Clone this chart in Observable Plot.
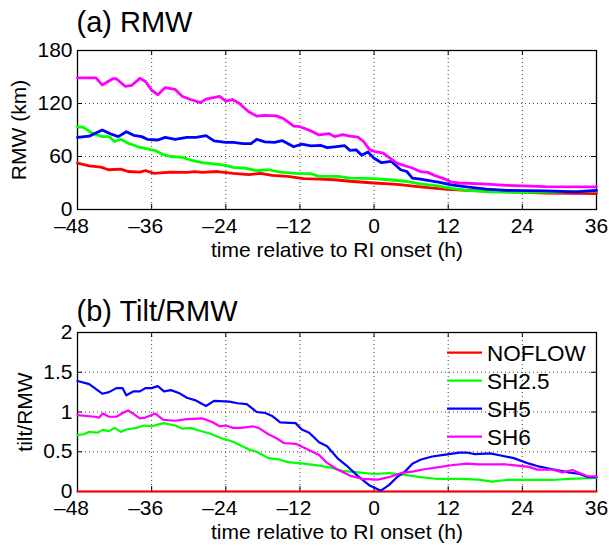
<!DOCTYPE html>
<html>
<head>
<meta charset="utf-8">
<script src="https://cdn.jsdelivr.net/npm/d3@7"></script>
<script src="https://cdn.jsdelivr.net/npm/@observablehq/plot@0.6"></script>
<style>
  html, body { margin: 0; padding: 0; background: white; }
  #wrap { position: relative; width: 609px; height: 546px; overflow: hidden; }
  #wrap svg { display: block; }
  #legend { position: absolute; left: 0; top: 0; pointer-events: none; }
</style>
</head>
<body>
<div id="wrap"></div>
<script>
// ---------- data ----------
const xTicks = [-48, -36, -24, -12, 0, 12, 24, 36];
const rmwTicks = [0, 60, 120, 180];
const tiltTicks = [0, 0.5, 1, 1.5, 2];
const seriesNames = ["NOFLOW", "SH2.5", "SH5", "SH6"];
const seriesColors = ["#ff0000", "#00ff00", "#0000ff", "#ff00ff"];
const titleA = "(a) RMW";
const titleB = "(b) Tilt/RMW";
const xLabel = "time relative to RI onset (h)";
const yLabelA = "RMW (km)";
const yLabelB = "tilt/RMW";

// (a) RMW (km): [hours, value]
const rmwNOFLOW = [[-48,52.5],[-46.1,49.5],[-44.2,48],[-43,45],[-41,45.7],[-39.8,43],[-37.9,42.4],[-37,44],[-35.7,41],[-32.9,42.4],[-30.3,42],[-29,43],[-27.8,42],[-25.3,43],[-22.8,41],[-20.3,39.4],[-18.4,41],[-16.5,38.6],[-14,37.5],[-11.4,35],[-8.9,34.5],[-6.4,33.7],[-3.9,32],[0,30],[3.7,28.5],[7.5,25.5],[11.3,23],[15,21.7],[21.4,20],[27.7,18.7],[36,18]];
const rmwSH25 = [[-48,93.7],[-47,93],[-45.8,87],[-44,82.5],[-42.9,82.5],[-42,77],[-41,79.5],[-39.8,75],[-38.2,71],[-36.7,68.6],[-35.4,66.7],[-34.1,62],[-32.9,60],[-31,59],[-29.7,56],[-27.8,53],[-25.9,51.7],[-24,50],[-22.8,47.6],[-20.9,46.9],[-19,44],[-17.1,45],[-15.2,42.4],[-12.7,41],[-10.2,40.5],[-8.9,37.5],[-5.8,37.5],[-3.9,35.6],[0,35],[2.4,33.7],[5,32],[7.5,29],[10,27],[12.5,24],[15,21.7],[18.8,20],[23.8,19.5],[28.9,19.7],[36,21]];
const rmwSH5 = [[-48,81.7],[-46.1,83],[-44,90],[-42.6,85.5],[-41.4,82.5],[-40.1,88],[-38.9,84],[-37.6,82.5],[-36.7,79.5],[-35,78.7],[-33.8,81.7],[-32.2,79.5],[-30.3,81.7],[-28.8,81.7],[-27.2,83.6],[-25.9,77.6],[-24,76],[-22.8,76],[-21.2,74.6],[-19.9,74.6],[-19,79.5],[-17.7,76.5],[-16.1,76],[-14.9,78],[-13,71],[-11.7,74],[-10.2,72],[-8.6,72.5],[-7.6,70],[-6.4,71],[-4.8,72.4],[-3.9,67],[-2.9,67.5],[-2,61.5],[-1,65],[0,58],[1.2,53],[2.8,54.4],[3.4,50.6],[4.3,45],[5.3,43],[6.2,35.6],[7.5,34.5],[8.7,33],[10.6,30.7],[12.5,28],[15,25.5],[18.2,23],[21.4,21.7],[27.7,21],[32.7,20],[36,21.7]];
const rmwSH6 = [[-48,149],[-45,149],[-44,141],[-42.3,148],[-41.7,148],[-40.3,139.5],[-39.2,140.6],[-37.9,148.5],[-37,145],[-36,135],[-35,130],[-33.8,138],[-32.2,136],[-31,128],[-29.7,124.5],[-28.1,121],[-27.2,125],[-25,128],[-24,122.6],[-22.9,124.5],[-21.8,120],[-20.3,110.6],[-19,105.7],[-17.7,106.5],[-15.8,106],[-14.6,102.7],[-13,94.5],[-12,93.7],[-10.2,89],[-8.9,84.4],[-7.3,86],[-6.4,82.5],[-5.1,84.7],[-3.9,83],[-2.6,82],[-1.7,77],[-0.7,67.5],[0.2,65.6],[1.5,63.7],[2.4,59],[3.7,52.5],[5,49.5],[6.2,47],[7.5,43],[8.7,42],[10,38],[11.3,35],[12.5,31],[13.8,30],[17.6,29],[21.4,27.4],[27.7,26],[36,25.5]];

// (b) tilt/RMW: [hours, value]
const tiltNOFLOW = [[-48,0],[36,0]];
const tiltSH25 = [[-48,0.71],[-47,0.72],[-46.1,0.75],[-44.8,0.74],[-43.9,0.775],[-42.9,0.76],[-42,0.80],[-41,0.75],[-40.1,0.78],[-38.5,0.80],[-37.3,0.83],[-36,0.82],[-34.1,0.86],[-32.2,0.83],[-31,0.79],[-29.7,0.80],[-28.5,0.77],[-26.6,0.73],[-24.7,0.67],[-22.8,0.625],[-21.5,0.575],[-20.3,0.53],[-19,0.50],[-17.1,0.42],[-15.2,0.40],[-14,0.37],[-11.4,0.35],[-8.9,0.325],[-7,0.30],[-5.1,0.26],[-2.6,0.24],[0,0.22],[2.4,0.23],[5,0.21],[7.5,0.18],[10,0.16],[13.8,0.16],[16.9,0.15],[19.1,0.125],[21.4,0.145],[25.1,0.145],[28.9,0.145],[31.5,0.16],[36,0.17]];
const tiltSH5 = [[-48,1.39],[-46.1,1.35],[-44,1.23],[-42.9,1.25],[-41.7,1.30],[-40.7,1.30],[-40.1,1.21],[-38.9,1.26],[-37.9,1.26],[-37,1.30],[-36,1.30],[-35,1.325],[-34,1.26],[-32.9,1.275],[-31.6,1.24],[-30.3,1.18],[-29,1.15],[-27.2,1.075],[-25.9,1.14],[-23.4,1.13],[-22.1,1.11],[-20.6,1.10],[-19,1.0],[-17.7,0.99],[-16.5,0.95],[-15.2,0.87],[-12.7,0.86],[-11.7,0.78],[-10.5,0.74],[-8.9,0.62],[-7.6,0.57],[-5.8,0.41],[-4.5,0.33],[-2.7,0.20],[-0.7,0.075],[1.1,0.01],[2.4,0.08],[3.7,0.18],[5,0.25],[6.2,0.35],[7.5,0.40],[9.4,0.44],[11.3,0.46],[13.8,0.49],[15,0.49],[16.3,0.47],[18.8,0.48],[20.7,0.45],[22.6,0.42],[25.1,0.35],[26.4,0.32],[28.9,0.28],[31.5,0.24],[33.3,0.22],[34.6,0.18],[36,0.18]];
const tiltSH6 = [[-48,0.96],[-45.2,0.94],[-44.5,0.93],[-43.9,0.98],[-42.9,0.94],[-41.7,0.94],[-40.4,1.0],[-39.8,1.02],[-37.9,0.92],[-37,0.93],[-35.4,0.98],[-34.1,0.90],[-32.2,0.89],[-30.3,0.91],[-27.8,0.92],[-26.2,0.875],[-25,0.82],[-24,0.83],[-22.8,0.80],[-21.5,0.80],[-19.6,0.82],[-18.7,0.80],[-17.1,0.72],[-15.8,0.67],[-14.6,0.61],[-12.7,0.60],[-10.8,0.53],[-8.9,0.46],[-7.6,0.36],[-5.8,0.27],[-3.9,0.20],[-2,0.16],[0.6,0.15],[2.4,0.18],[4.3,0.23],[6.2,0.25],[8.1,0.28],[10,0.30],[12.5,0.33],[15,0.35],[16.9,0.34],[18.8,0.34],[21.4,0.34],[23.2,0.325],[25.1,0.31],[26.4,0.275],[28.9,0.275],[30.5,0.24],[32.1,0.27],[33.7,0.22],[34.6,0.19],[36,0.19]];

// ---------- drawing ----------
const FONT = "'Liberation Sans', Arial, Helvetica, sans-serif";
const W = 609, H = 273;
const ML = 77, MR = 13;
const fmtX = d => d < 0 ? "\u2013" + Math.abs(d) : String(d);

function panel({series, yDomain, yTicks, title, yLabel, marginTop, marginBottom, titleDy, yLabelDx, lineWidth}) {
  const fw = W - ML - MR;
  const fh = H - marginTop - marginBottom;
  const tick = 5;
  const lineMarks = series.map((s, i) =>
    Plot.line(s, {x: d => d[0], y: d => d[1], stroke: seriesColors[i], strokeWidth: lineWidth, strokeLinejoin: "round"})
  );
  return Plot.plot({
    width: W, height: H,
    marginTop, marginBottom, marginLeft: ML, marginRight: MR,
    x: {domain: [-48, 36]},
    y: {domain: yDomain},
    style: {fontFamily: FONT, fontSize: "21px", color: "black", background: "white", overflow: "visible"},
    marks: [
      Plot.gridX(xTicks, {stroke: "#444", strokeOpacity: 1, strokeWidth: 1, strokeDasharray: "1,3"}),
      Plot.gridY(yTicks, {stroke: "#444", strokeOpacity: 1, strokeWidth: 1, strokeDasharray: "1,3"}),
      Plot.ruleX(xTicks, {stroke: "black", strokeWidth: 1, insetTop: fh - tick}),
      Plot.ruleX(xTicks, {stroke: "black", strokeWidth: 1, insetBottom: fh - tick}),
      Plot.ruleY(yTicks, {stroke: "black", strokeWidth: 1, insetRight: fw - tick}),
      Plot.ruleY(yTicks, {stroke: "black", strokeWidth: 1, insetLeft: fw - tick}),
      Plot.frame({stroke: "black", strokeWidth: 1.3}),
      Plot.axisX(xTicks.filter(d => d < 0), {tickSize: 0, tickPadding: 9, dx: -6, tickFormat: fmtX, label: null}),
      Plot.axisX(xTicks.filter(d => d >= 0), {tickSize: 0, tickPadding: 9, tickFormat: fmtX, label: null}),
      Plot.axisY({ticks: yTicks, tickSize: 0, tickPadding: 5, tickFormat: d => String(d), label: null}),
      ...lineMarks,
      Plot.text([title], {frameAnchor: "top-left", textAnchor: "start", lineAnchor: "middle", dx: -1, dy: titleDy, fontSize: 29}),
      Plot.text([yLabel], {frameAnchor: "left", textAnchor: "middle", lineAnchor: "middle", rotate: -90, dx: yLabelDx, fontSize: 21}),
      Plot.text([xLabel], {frameAnchor: "bottom", textAnchor: "middle", lineAnchor: "middle", dy: 40.5, fontSize: 21})
    ]
  });
}

const wrap = document.getElementById("wrap");
wrap.appendChild(panel({
  series: [rmwNOFLOW, rmwSH25, rmwSH5, rmwSH6],
  yDomain: [0, 180], yTicks: rmwTicks, title: titleA, yLabel: yLabelA,
  marginTop: 50, marginBottom: 64, titleDy: -27.3, yLabelDx: -58.7, lineWidth: 2.8
}));
wrap.appendChild(panel({
  series: [tiltNOFLOW, tiltSH25, tiltSH5, tiltSH6],
  yDomain: [0, 2], yTicks: tiltTicks, title: titleB, yLabel: yLabelB,
  marginTop: 59, marginBottom: 55, titleDy: -20.8, yLabelDx: -52.7, lineWidth: 2.2
}));

// legend (no box) inside panel (b)
const leg = d3.create("svg").attr("id", "legend").attr("width", 609).attr("height", 546)
  .style("font-family", FONT);
const legY0 = 352.7, legStep = 28;
seriesNames.forEach((name, i) => {
  const y = legY0 + i * legStep;
  leg.append("line").attr("x1", 447).attr("x2", 482).attr("y1", y).attr("y2", y)
    .attr("stroke", seriesColors[i]).attr("stroke-width", 2.2);
  leg.append("text").attr("x", 487).attr("y", y + 8).attr("font-size", 22.5).attr("fill", "black").text(name);
});
wrap.appendChild(leg.node());
</script>
</body>
</html>
